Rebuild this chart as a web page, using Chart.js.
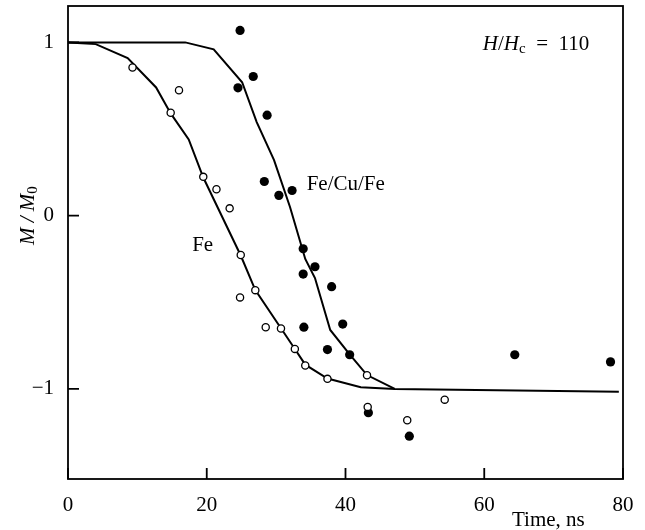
<!DOCTYPE html>
<html>
<head>
<meta charset="utf-8">
<script src="https://cdn.jsdelivr.net/npm/chart.js@4.4.0/dist/chart.umd.min.js"></script>
<style>
  body { margin: 0; background: #fff; }
  canvas { display: block; }
</style>
</head>
<body>
<canvas id="magChart" width="645" height="530"></canvas>
<script>
// measured points, Fe (open circles)
const feTime = [9.3, 14.8, 16.0, 19.5, 21.4, 23.3, 24.9, 24.8, 27.0, 28.5, 30.7, 32.7, 34.2, 37.4, 43.1, 43.2, 48.9, 54.3];
const feM = [0.855, 0.594, 0.724, 0.224, 0.152, 0.042, -0.227, -0.472, -0.43, -0.644, -0.651, -0.769, -0.865, -0.942, -0.921, -1.104, -1.181, -1.062];

// measured points, Fe/Cu/Fe (filled circles)
const fcfTime = [24.8, 24.5, 26.7, 28.7, 28.3, 30.4, 32.3, 33.9, 33.9, 35.6, 34.0, 37.4, 38.0, 39.6, 40.6, 43.3, 49.2, 64.4, 78.2];
const fcfM = [1.069, 0.738, 0.803, 0.58, 0.197, 0.117, 0.145, -0.191, -0.337, -0.295, -0.644, -0.773, -0.41, -0.626, -0.803, -1.137, -1.273, -0.803, -0.844];

// simulated curves
const feCurveT = [0, 4, 8.6, 12.7, 14.8, 17.4, 19.5, 24.9, 27.0, 30.7, 32.7, 34.2, 37.4, 42.2, 47.1, 79.4];
const feCurveM = [1.0, 0.99, 0.91, 0.74, 0.59, 0.44, 0.22, -0.23, -0.43, -0.65, -0.77, -0.86, -0.94, -0.99, -1.0, -1.017];
const fcfCurveT = [0, 16.9, 21.0, 25.1, 27.2, 29.7, 32.0, 34.2, 35.6, 37.8, 40.6, 43.1, 47.1];
const fcfCurveM = [1.0, 1.0, 0.96, 0.77, 0.54, 0.32, 0.05, -0.25, -0.36, -0.66, -0.80, -0.92, -1.0];

const xTicks = [0, 20, 40, 60, 80];
const yTicks = [-1, 0, 1];

const SERIF = '"Liberation Serif", "DejaVu Serif", serif';

function pts(xs, ys) {
    return xs.map((x, i) => ({ x: x, y: ys[i] }));
}

// frame, inward ticks and text labels
const decorations = {
    id: 'decorations',
    afterDraw(chart) {
        const ctx = chart.ctx;
        const a = chart.chartArea;
        const xs = chart.scales.x, ys = chart.scales.y;
        ctx.save();
        ctx.strokeStyle = '#000';
        ctx.lineWidth = 1.8;
        ctx.strokeRect(a.left, a.top, a.right - a.left, a.bottom - a.top);
        ctx.beginPath();
        xTicks.forEach(v => {
            const px = xs.getPixelForValue(v);
            ctx.moveTo(px, a.bottom);
            ctx.lineTo(px, a.bottom - 11);
        });
        yTicks.forEach(v => {
            const py = ys.getPixelForValue(v);
            ctx.moveTo(a.left, py);
            ctx.lineTo(a.left + 11, py);
        });
        ctx.stroke();

        ctx.fillStyle = '#000';
        ctx.textBaseline = 'middle';
        ctx.textAlign = 'left';
        ctx.font = '21px ' + SERIF;
        ctx.fillText('Fe/Cu/Fe', xs.getPixelForValue(34.4), ys.getPixelForValue(0.18));
        ctx.fillText('Fe', xs.getPixelForValue(17.9), ys.getPixelForValue(-0.17));
        ctx.fillText('Time, ns', xs.getPixelForValue(64.0), a.bottom + 41);

        // H/Hc = 110
        let x = xs.getPixelForValue(59.8);
        const y = ys.getPixelForValue(0.99);
        const parts = [
            ['H', 'italic 21px ', 0],
            ['/', '21px ', 0],
            ['H', 'italic 21px ', 0],
            ['c', '15px ', 5],
            ['\u2002=\u2002110', '21px ', 0]
        ];
        parts.forEach(p => {
            ctx.font = p[1] + SERIF;
            ctx.fillText(p[0], x, y + p[2]);
            x += ctx.measureText(p[0]).width;
        });

        // y title M / M0, rotated
        ctx.translate(28, ys.getPixelForValue(0));
        ctx.rotate(-Math.PI / 2);
        ctx.textAlign = 'left';
        ctx.font = 'italic 21px ' + SERIF;
        const main = 'M / M';
        const w = ctx.measureText(main).width;
        ctx.font = '15px ' + SERIF;
        const w0 = ctx.measureText('0').width;
        const start = -(w + w0) / 2;
        ctx.font = 'italic 21px ' + SERIF;
        ctx.fillText(main, start, 0);
        ctx.font = '15px ' + SERIF;
        ctx.fillText('0', start + w, 5);
        ctx.restore();
    }
};

new Chart(document.getElementById('magChart').getContext('2d'), {
    type: 'scatter',
    data: {
        datasets: [
            {
                label: 'Fe',
                data: pts(feTime, feM),
                showLine: false,
                pointRadius: 3.6,
                pointBorderWidth: 1.3,
                pointBackgroundColor: '#fff',
                pointBorderColor: '#000',
                order: 0
            },
            {
                label: 'Fe/Cu/Fe',
                data: pts(fcfTime, fcfM),
                showLine: false,
                pointRadius: 4.6,
                pointBorderWidth: 0,
                pointBackgroundColor: '#000',
                pointBorderColor: '#000',
                order: 0
            },
            {
                label: 'Fe curve',
                data: pts(feCurveT, feCurveM),
                showLine: true,
                pointRadius: 0,
                borderColor: '#000',
                borderWidth: 2,
                tension: 0,
                order: 1
            },
            {
                label: 'Fe/Cu/Fe curve',
                data: pts(fcfCurveT, fcfCurveM),
                showLine: true,
                pointRadius: 0,
                borderColor: '#000',
                borderWidth: 2,
                tension: 0,
                order: 1
            }
        ]
    },
    options: {
        responsive: false,
        animation: false,
        layout: { padding: { top: 6, right: 22, left: 0, bottom: 0 } },
        plugins: { legend: { display: false }, tooltip: { enabled: false } },
        scales: {
            x: {
                type: 'linear',
                min: 0,
                max: 80,
                afterBuildTicks: s => { s.ticks = xTicks.map(v => ({ value: v })); },
                afterFit: s => {
                    s.height = 51;
                    s.paddingLeft = 0;
                    s.paddingRight = 0;
                },
                grid: { display: false, drawTicks: false },
                border: { display: false },
                ticks: { padding: 14, color: '#000', font: { family: SERIF, size: 21 } }
            },
            y: {
                type: 'linear',
                min: -1.52,
                max: 1.21,
                afterBuildTicks: s => { s.ticks = yTicks.map(v => ({ value: v })); },
                afterFit: s => {
                    s.width = 68;
                    s.paddingTop = 0;
                    s.paddingBottom = 0;
                },
                grid: { display: false, drawTicks: false },
                border: { display: false },
                ticks: {
                    padding: 14,
                    color: '#000',
                    font: { family: SERIF, size: 21 },
                    callback: v => v < 0 ? '\u2212' + Math.abs(v) : String(v)
                }
            }
        }
    },
    plugins: [decorations]
});
</script>
</body>
</html>
